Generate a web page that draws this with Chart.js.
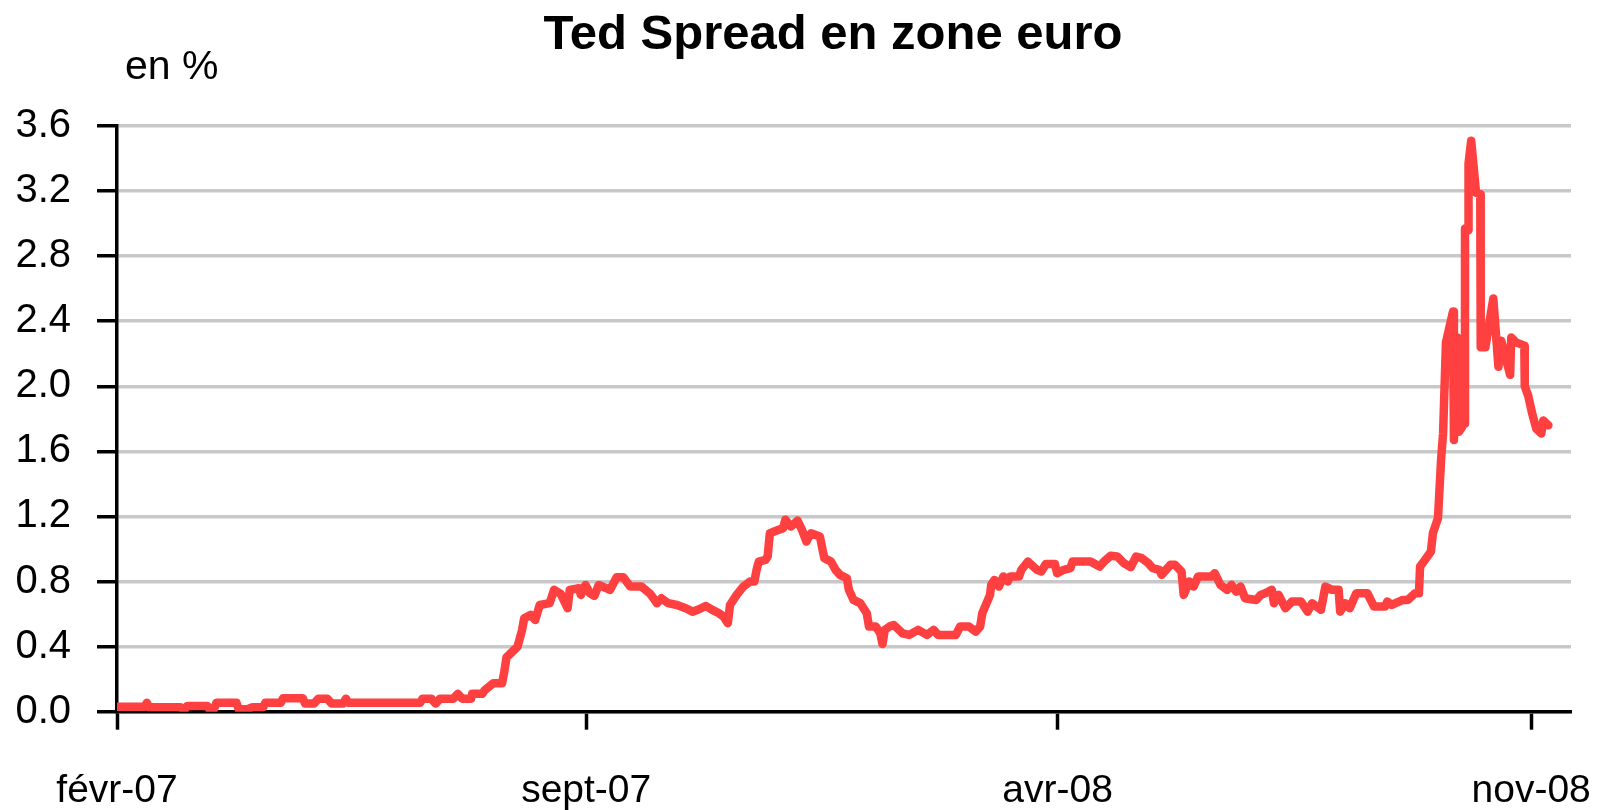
<!DOCTYPE html>
<html>
<head>
<meta charset="utf-8">
<script src="https://cdn.jsdelivr.net/npm/chart.js@4.4.0/dist/chart.umd.min.js"></script>
<style>
  html, body { margin: 0; padding: 0; background: #ffffff; }
  #wrap { width: 1605px; height: 810px; position: relative; }
</style>
</head>
<body>
<div id="wrap"><canvas id="c" width="1605" height="810"></canvas></div>
<script>
// ---- Data (x = days since 1 Feb 2007) ----
const titleText = "Ted Spread en zone euro";
const unitText = "en %";
const tickDays = [0, 212, 425, 639];
const tickLabels = ["févr-07", "sept-07", "avr-08", "nov-08"];
const yTicks = [0.0, 0.4, 0.8, 1.2, 1.6, 2.0, 2.4, 2.8, 3.2, 3.6];

const days = [
  0, 12.5, 13.5, 14.5, 28.7, 29.7, 30.7, 31.7, 40.8, 41.8, 43.8, 44.9, 54, 55, 59, 61, 66, 67, 74, 75,
  84, 85, 89, 91, 95, 97, 102, 103.5, 104.5, 137, 138, 142, 144, 146, 152, 154, 156, 160, 160.5, 165,
  166, 170, 174, 175, 176, 181, 183, 184, 187, 189, 191, 195.5, 197.5, 200.5, 203.6, 204.6, 208.7, 209.6, 211.7, 213.7,
  215.7, 217.7, 222.8, 225.8, 228.8, 231.9, 237, 241, 244, 246, 249, 253, 257, 260, 263, 266, 269, 272, 274, 276,
  277, 280, 283, 286, 288, 289, 290, 293, 294, 295, 299, 301, 302, 304.5, 307.5, 309.5, 311.5, 313.6, 317.6, 319.6,
  322.6, 324.7, 326.7, 329.8, 330.7, 332.8, 335.8, 338.8, 339.8, 342.9, 344.9, 345.9, 346.9, 349, 351, 355, 358, 362, 366, 369,
  371, 379, 381, 385, 388, 390, 391, 394.5, 395, 396.5, 398.5, 400.5, 402.5, 403.5, 407.6, 408.6, 411.6, 415.7, 417.7, 419.7,
  423.8, 424.8, 427.8, 430.8, 431.8, 439.9, 444, 446, 449, 452, 455, 458, 460.5, 463, 466, 468, 471, 472, 474, 476,
  478, 481, 482, 484.5, 486.5, 488.5, 494.5, 496, 498.6, 501.6, 503.6, 505.7, 507.7, 509.7, 514.8, 516.8, 518.8, 521.8, 522.8, 524.9,
  527.9, 530.9, 535, 538, 540, 544, 546, 549, 552, 552.7, 555, 557, 560, 565, 568, 573, 574, 576, 581, 583.3,
  586.5, 588.3, 588.8, 591, 593.7, 594.6, 596.9, 598.3, 599.2, 600.5, 603.7, 604.1, 605.5, 606.4, 608.7, 609.1, 610.5, 610.7, 611.9, 614.1,
  616, 616.2, 618.3, 621.9, 624.2, 625.5, 629.5, 630, 632.2, 635.9, 636.1, 637.7, 639.5, 641.3, 643.6, 644.5, 646.8
];
const spread = [
  0.03, 0.03, 0.055, 0.027, 0.027, 0.015, 0.015, 0.035, 0.035, 0.015, 0.015, 0.055, 0.055, 0.015, 0.015, 0.027, 0.027, 0.055, 0.055, 0.082,
  0.082, 0.05, 0.05, 0.08, 0.08, 0.05, 0.05, 0.08, 0.055, 0.055, 0.08, 0.08, 0.05, 0.08, 0.08, 0.11, 0.08, 0.08, 0.11, 0.11,
  0.13, 0.175, 0.175, 0.246, 0.334, 0.40, 0.50, 0.574, 0.595, 0.564, 0.656, 0.667, 0.749, 0.724, 0.636, 0.749, 0.759, 0.718, 0.779, 0.728,
  0.712, 0.779, 0.749, 0.827, 0.827, 0.769, 0.769, 0.724, 0.667, 0.697, 0.667, 0.656, 0.636, 0.615, 0.630, 0.650, 0.626, 0.605, 0.585, 0.544,
  0.656, 0.718, 0.769, 0.80, 0.80, 0.872, 0.923, 0.933, 0.954, 1.097, 1.118, 1.128, 1.18, 1.138, 1.175, 1.118, 1.046, 1.097, 1.077, 0.944,
  0.923, 0.872, 0.841, 0.82, 0.749, 0.687, 0.667, 0.605, 0.523, 0.523, 0.482, 0.416, 0.503, 0.523, 0.533, 0.482, 0.472, 0.503, 0.472, 0.503,
  0.472, 0.472, 0.523, 0.523, 0.492, 0.523, 0.605, 0.718, 0.78, 0.81, 0.769, 0.831, 0.80, 0.831, 0.831, 0.872, 0.923, 0.872, 0.862, 0.908,
  0.908, 0.851, 0.872, 0.882, 0.923, 0.923, 0.892, 0.923, 0.958, 0.954, 0.913, 0.888, 0.954, 0.944, 0.913, 0.882, 0.872, 0.841, 0.872, 0.903,
  0.903, 0.862, 0.718, 0.80, 0.769, 0.831, 0.831, 0.851, 0.78, 0.749, 0.78, 0.738, 0.769, 0.697, 0.687, 0.718, 0.728, 0.749, 0.667, 0.718,
  0.636, 0.677, 0.677, 0.615, 0.667, 0.626, 0.769, 0.749, 0.749, 0.615, 0.667, 0.636, 0.728, 0.728, 0.646, 0.646, 0.677, 0.656, 0.687, 0.687,
  0.728, 0.728, 0.892, 0.933, 0.985, 1.097, 1.19, 1.55, 1.71, 2.27, 2.46, 1.67, 2.30, 1.72, 1.77, 2.97, 2.96, 3.37, 3.51, 3.19,
  3.18, 2.24, 2.24, 2.54, 2.12, 2.28, 2.07, 2.30, 2.27, 2.25, 2.0, 1.94, 1.83, 1.74, 1.71, 1.79, 1.76
];

const points = days.map((d, i) => ({ x: d, y: spread[i] }));
const FONT = "'Liberation Sans', Arial, sans-serif";

const textPlugin = {
  id: 'texts',
  afterDraw(chart) {
    const ctx = chart.ctx;
    ctx.save();
    ctx.fillStyle = '#000';
    ctx.textBaseline = 'alphabetic';
    ctx.font = "bold 49px " + FONT;
    ctx.textAlign = 'center';
    ctx.fillText(titleText, 833, 49);
    ctx.font = "41px " + FONT;
    ctx.textAlign = 'left';
    ctx.fillText(unitText, 125, 79);
    ctx.restore();
  }
};

new Chart(document.getElementById('c'), {
  type: 'line',
  data: {
    datasets: [{
      data: points,
      borderColor: '#ff4040',
      borderWidth: 8.5,
      pointRadius: 0,
      tension: 0,
      borderJoinStyle: 'round',
      borderCapStyle: 'round',
      fill: false
    }]
  },
  options: {
    responsive: false,
    animation: false,
    layout: { padding: { top: 126, right: 34, bottom: 0, left: 0 } },
    plugins: { legend: { display: false }, tooltip: { enabled: false }, title: { display: false } },
    scales: {
      x: {
        type: 'linear',
        min: 0,
        max: 657,
        afterBuildTicks(scale) { scale.ticks = tickDays.map(v => ({ value: v })); },
        afterFit(scale) { scale.height = 98.3; scale.paddingLeft = 0; scale.paddingRight = 0; },
        ticks: {
          autoSkip: false,
          maxRotation: 0,
          padding: 38,
          color: '#000',
          font: { family: FONT, size: 39 },
          callback(value) { const i = tickDays.indexOf(value); return i >= 0 ? tickLabels[i] : ''; }
        },
        grid: { display: true, drawOnChartArea: false, drawTicks: true, tickLength: 18, tickColor: '#000', tickWidth: 3.5 },
        border: { display: true, color: '#000', width: 3.5 }
      },
      y: {
        min: 0,
        max: 3.6,
        afterBuildTicks(scale) { scale.ticks = yTicks.map(v => ({ value: v })); },
        afterFit(scale) { scale.width = 117; scale.paddingTop = 0; scale.paddingBottom = 0; },
        ticks: {
          padding: 26,
          color: '#000',
          font: { family: FONT, size: 40 },
          callback(value) { return Number(value).toFixed(1); }
        },
        grid: { color: '#c8c8c8', lineWidth: 3.5, drawTicks: true, tickLength: 20, tickColor: '#000', tickWidth: 3.5 },
        border: { display: true, color: '#000', width: 3.5 }
      }
    }
  },
  plugins: [textPlugin]
});
</script>
</body>
</html>
